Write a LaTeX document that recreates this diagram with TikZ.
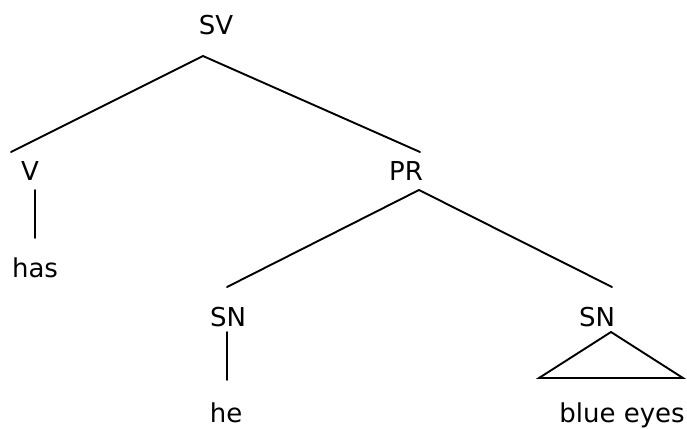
\documentclass[tikz,border=0pt]{standalone}
\usepackage{fontspec}
\setmainfont{DejaVu Sans}
\usetikzlibrary{positioning}

\begin{document}
\begin{tikzpicture}
[x=1pt, y=-1pt, line width=1.9pt, line cap=round,
cat/.style={inner sep=0pt, anchor=base, font=\fontsize{26}{31}\selectfont},
word/.style={cat}]

\useasboundingbox (0,0) rectangle (687,428);

% category labels
\node[cat] (sv) at (216,35) {SV};
\node[cat] (v) at (30,180) {V};
\node[cat] (pr) at (406,180) {PR};
\node[cat] (sn1) at (228,326) {SN};
\node[cat] (sn2) at (597,326) {SN};

% words
\node[word] (has) at (35,277) {has};
\node[word] (he) at (226,422) {he};
\node[word] (blue) at (622,422) {blue eyes};

% branch points
\coordinate (svb) at (203,56);
\coordinate (vt) at (11,152);
\coordinate (vb) at (35,190);
\coordinate (hast) at (35,238);
\coordinate (prt) at (420,152);
\coordinate (prb) at (419,190);
\coordinate (sn1t) at (227,287);
\coordinate (sn1b) at (227,332);
\coordinate (het) at (227,380);
\coordinate (sn2t) at (612,287);
\coordinate (sn2b) at (611,332);
\coordinate (tril) at (539,378);
\coordinate (trir) at (683,378);

\draw (vt) -- (svb) -- (prt);
\draw (sn1t) -- (prb) -- (sn2t);
\draw (vb) -- (hast);
\draw (sn1b) -- (het);
\draw (tril) -- (sn2b) -- (trir) -- cycle;

\end{tikzpicture}
\end{document}
